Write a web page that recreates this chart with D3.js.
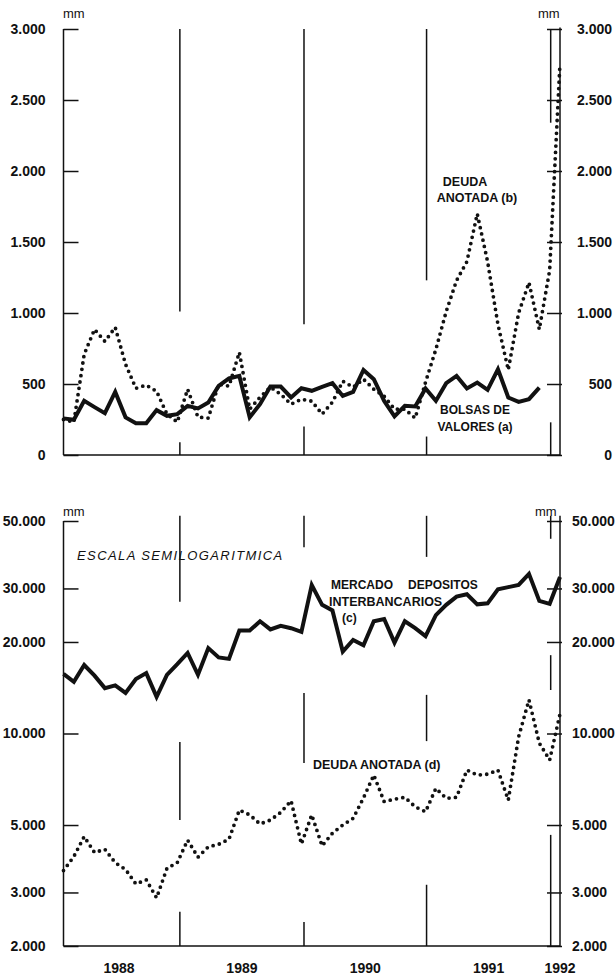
<!DOCTYPE html>
<html>
<head>
<meta charset="utf-8">
<script src="https://cdn.jsdelivr.net/npm/d3@7"></script>
<style>
  body { margin: 0; background: #fff; }
  svg { display: block; font-family: "Liberation Sans", Arial, sans-serif; }
  .tick text { font-weight: bold; font-size: 14px; fill: #111; }
  .tick line, .rule { stroke: #111; stroke-width: 1.5; }
</style>
</head>
<body>
<svg id="chart" width="616" height="977"></svg>
<script>
// monthly series, index 0 = Jan 1988 ... 48 = Jan 1992 (mm of pesetas)
const bolsasValores = [258, 248, 381, 337, 295, 444, 265, 223, 223, 316, 276, 288,
  346, 328, 370, 487, 539, 557, 265, 358, 482, 482, 405, 470,
  452, 480, 506, 416, 445, 599, 534, 381, 272, 346, 342, 468,
  381, 506, 557, 468, 510, 459, 604, 405, 374, 393, 475];
const deudaAnotadaB = [250, 232, 709, 885, 800, 899, 639, 470, 492, 449, 288, 232,
  463, 267, 260, 499, 485, 723, 323, 407, 478, 428, 358, 393,
  379, 288, 372, 520, 478, 534, 463, 414, 323, 323, 260, 513,
  744, 1011, 1229, 1362, 1699, 1362, 920, 600, 1000, 1215, 885, 1300, 2760];
const interbancarios = [15700, 14800, 16800, 15500, 14100, 14400, 13600, 15100, 15800, 13200, 15600, 16900,
  18400, 15600, 19100, 17800, 17600, 21800, 21800, 23400, 22000, 22600, 22200, 21600,
  30800, 26500, 25400, 18600, 20300, 19500, 23400, 23800, 19900, 23400, 22200, 20900,
  24500, 26500, 28200, 28700, 26600, 26800, 29800, 30300, 30800, 33500, 27300, 26700, 32700];
const deudaAnotadaD = [3540, 3940, 4580, 4060, 4160, 3760, 3570, 3200, 3300, 2880, 3600, 3760,
  4460, 3920, 4240, 4320, 4490, 5600, 5400, 5040, 5190, 5500, 6010, 4330,
  5400, 4270, 4700, 5000, 5260, 6140, 7300, 5970, 6080, 6170, 5740, 5530,
  6600, 6120, 6170, 7580, 7300, 7350, 7580, 6040, 9750, 12900, 9300, 8180, 11600];

const years = ["1988", "1989", "1990", "1991", "1992"];
const yearBreaks = [11.25, 23.25, 35.1, 47.1];   // month position of the year rules
const topTicks = [0, 500, 1000, 1500, 2000, 2500, 3000];
const bottomTicks = [2000, 3000, 5000, 10000, 20000, 30000, 50000];

// visible pieces of each year rule, in value units
const topRuleParts = [[[1010, 3000], [0, 90]], [[920, 3000], [0, 200]],
  [[1230, 3000], [0, 130]], [[2340, 3000], [0, 230]]];
const bottomRuleParts = [[[27100, 52000], [5190, 9380], [2000, 2590]],
  [[41000, 52000], [8000, 13600], [2000, 2400]],
  [[38100, 52000], [9440, 13400], [2000, 3180]],
  [[43700, 52000], [13900, 18100], [2000, 4640]]];

const fmt = d3.formatLocale({ decimal: ",", thousands: ".", grouping: [3], currency: ["", ""] }).format(",");

const svg = d3.select("#chart");
const x = d3.scaleLinear().domain([0, 48]).range([63.5, 560]);
const yTop = d3.scaleLinear().domain([0, 3000]).range([455, 29]);
const yBot = d3.scaleLog().domain([2000, 50000]).range([946, 521]);
const x0 = x(0), x1 = x(48);

function vline(xp, ya, yb) {
  svg.append("line").attr("class", "rule")
    .attr("x1", xp).attr("x2", xp).attr("y1", ya).attr("y2", yb);
}

/* ---------- axes ---------- */
function drawPanel(y, ticks, topValue, rightAnchorEnd) {
  const left = svg.append("g").attr("transform", `translate(${x0},0)`)
    .call(d3.axisLeft(y).tickValues(ticks).tickFormat(fmt)
      .tickSizeInner(-15).tickSizeOuter(0).tickPadding(18));
  left.select(".domain").remove();

  const right = svg.append("g").attr("transform", `translate(${x1},0)`)
    .call(d3.axisRight(y).tickValues(ticks).tickFormat(fmt)
      .tickSizeInner(-15).tickSizeOuter(0).tickPadding(12));
  right.select(".domain").remove();
  right.selectAll(".tick line").attr("x2", -13).attr("x1", 2);
  if (rightAnchorEnd) right.selectAll(".tick text").attr("text-anchor", "end").attr("x", 52);

  const lo = y.domain()[0];
  vline(x0, y(y.domain()[1]), y(lo));
  vline(x1, y(topValue), y(lo));
  svg.append("line").attr("class", "rule")
    .attr("x1", x0).attr("x2", x1).attr("y1", y(lo)).attr("y2", y(lo));
}
drawPanel(yTop, topTicks, 3010, true);
drawPanel(yBot, bottomTicks, 52000, false);

yearBreaks.forEach((m, i) => {
  topRuleParts[i].forEach(([a, b]) => vline(x(m), yTop(a), yTop(b)));
  bottomRuleParts[i].forEach(([a, b]) => vline(x(m), yBot(a), yBot(b)));
});

/* ---------- series ---------- */
function drawSeries(values, y, dotted) {
  const line = d3.line().x((d, i) => x(i)).y(d => y(d));
  const p = svg.append("path").datum(values).attr("d", line)
    .attr("fill", "none").attr("stroke", "#111");
  if (dotted) {
    p.attr("stroke-width", 3.8).attr("stroke-linecap", "round").attr("stroke-dasharray", "0 6.4");
  } else {
    p.attr("stroke-width", 4).attr("stroke-linejoin", "miter").attr("stroke-miterlimit", 4);
  }
}
drawSeries(deudaAnotadaB, yTop, true);
drawSeries(bolsasValores, yTop, false);
drawSeries(deudaAnotadaD, yBot, true);
drawSeries(interbancarios, yBot, false);

/* ---------- year labels ---------- */
const yearPos = years.map((_, i) => i < 4 ? ((i === 0 ? -0.5 : yearBreaks[i - 1]) + yearBreaks[i]) / 2 : 48);
svg.selectAll("text.year").data(years).join("text").attr("class", "year")
  .attr("x", (d, i) => x(yearPos[i])).attr("y", 968)
  .attr("dominant-baseline", "central")
  .attr("text-anchor", "middle").attr("font-weight", "bold").attr("font-size", 14)
  .attr("fill", "#111").text(d => d);

/* ---------- annotations ---------- */
function label(txt, px, py, opts = {}) {
  svg.append("text").attr("x", px).attr("y", py)
    .attr("text-anchor", opts.anchor || "start")
    .attr("dominant-baseline", "central")
    .attr("font-size", opts.size || 12)
    .attr("font-weight", opts.weight || "bold")
    .attr("font-style", opts.style || "normal")
    .attr("letter-spacing", opts.spacing || 0)
    .attr("fill", "#111").text(txt);
}
const unit = { size: 13, weight: "normal" };
label("mm", 63, 13, unit);
label("mm", 538, 13, unit);
label("mm", 63, 511, unit);
label("mm", 535, 511, unit);

label("DEUDA", 465, 182, { anchor: "middle", size: 12.5 });
label("ANOTADA (b)", 477, 198, { anchor: "middle", size: 12.5 });
label("BOLSAS DE", 475, 410, { anchor: "middle" });
label("VALORES (a)", 475, 427, { anchor: "middle" });

label("ESCALA SEMILOGARITMICA", 77, 555, { size: 13, weight: "normal", style: "italic", spacing: 1.4 });
label("MERCADO", 331, 585);
label("DEPOSITOS", 408, 585);
label("INTERBANCARIOS", 329, 602, { size: 12.5 });
label("(c)", 342, 618);
label("DEUDA ANOTADA (d)", 313, 765, { size: 12.5 });
</script>
</body>
</html>
